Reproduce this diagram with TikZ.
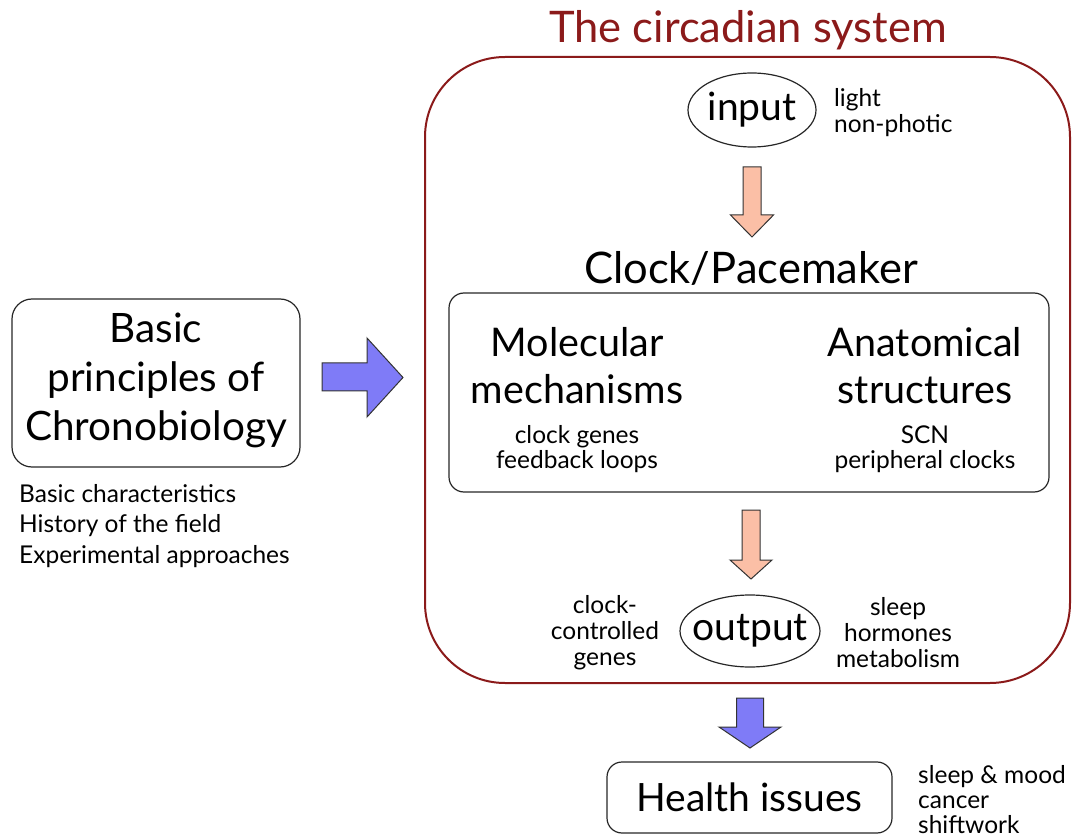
\documentclass[tikz,border=0pt]{standalone}
\usepackage{fontspec}
\setmainfont{Lato}
\usetikzlibrary{shapes.geometric}
\definecolor{dred}{HTML}{8B1A1A}
\definecolor{salmon}{HTML}{FBBFA6}
\definecolor{bblue}{HTML}{7F7BF7}
\newcommand\DnArrow[7]{%
  \filldraw[fill=#1, draw=black!80, line width=1pt, line join=miter]
    ({#2-#6},#3) -- ({#2+#6},#3) -- ({#2+#6},#4) -- ({#2+#7},#4) -- (#2,#5)
    -- ({#2-#7},#4) -- ({#2-#6},#4) -- cycle;}
\begin{document}
\begin{tikzpicture}[x=1pt,y=-1pt,
  hugetxt/.style={font=\fontsize{43.5}{50}\selectfont, inner sep=0pt},
  bigtxt/.style={font=\fontsize{40.5}{49}\selectfont, align=center, inner sep=0pt},
  midtxt/.style={font=\fontsize{39.5}{47}\selectfont, align=center, inner sep=0pt},
  smalltxt/.style={font=\fontsize{24.5}{26}\selectfont, align=center, inner sep=0pt},
  boxstyle/.style={draw=black!85, line width=1.2pt, rounded corners=#1},
  ovalstyle/.style={ellipse, draw=black!85, line width=1.2pt, inner xsep=-10pt, inner ysep=0pt, font=\fontsize{39}{44}\selectfont}
]
\useasboundingbox (0,0) rectangle (1072,834);

% title and system frame
\node[hugetxt, text=dred] (title) at (748,30) {The circadian system};
\node[draw=dred, line width=2pt, rounded corners=80, minimum width=645, minimum height=626, inner sep=0pt] (sys) at (747.5,370) {};

% input
\node[ovalstyle, minimum width=128, minimum height=74] (input) at (752,110) {input};
\node[smalltxt, align=left, anchor=west] (inlab) at (834,113) {light\\non-photic};

\DnArrow{salmon}{752}{167}{215}{237}{9}{21.5}

% clock
\node[hugetxt] (clock) at (751,268) {Clock/Pacemaker};
\node[boxstyle=15, minimum width=600, minimum height=199, inner sep=0pt] (clockbox) at (749,392.5) {};
\node[midtxt] (mol) at (577,366) {Molecular\\mechanisms};
\node[midtxt] (ana) at (925,366) {Anatomical\\structures};
\node[smalltxt, font=\fontsize{24.5}{25}\selectfont] (mollab) at (577,449) {clock genes\\feedback loops};
\node[smalltxt, font=\fontsize{24.5}{25}\selectfont] (analab) at (925,449) {SCN\\peripheral clocks};

\DnArrow{salmon}{751}{510}{560}{579}{9}{21}

% output
\node[ovalstyle, minimum width=140, minimum height=72] (output) at (750,631) {output};
\node[smalltxt] (outl) at (605,633) {clock-\\controlled\\genes};
\node[smalltxt] (outr) at (898,633) {sleep\\hormones\\metabolism};

\DnArrow{bblue}{750}{698}{727}{748}{13.5}{31}

% health
\node[boxstyle=15, minimum width=285, minimum height=71, inner sep=0pt, font=\fontsize{39}{44}\selectfont] (health) at (749.5,797.5) {Health issues};
\node[smalltxt, align=left, anchor=west, font=\fontsize{24.5}{25}\selectfont] (heallab) at (918,800) {sleep \& mood\\cancer\\shiftwork};

% basic principles
\node[boxstyle=20, minimum width=288, minimum height=168, inner sep=0pt] (basic) at (156,383) {};
\node[bigtxt] (basictxt) at (156,380) {Basic\\principles of\\Chronobiology};
\node[smalltxt, align=left, anchor=west, font=\fontsize{24.5}{30.5}\selectfont] (basiclab) at (19,526) {Basic characteristics\\History of the field\\Experimental approaches};

\filldraw[fill=bblue, draw=black!80, line width=1pt, line join=miter]
  (322,363) -- (367,363) -- (367,338) -- (403,377.5) -- (367,417) -- (367,391) -- (322,391) -- cycle;
\end{tikzpicture}
\end{document}
